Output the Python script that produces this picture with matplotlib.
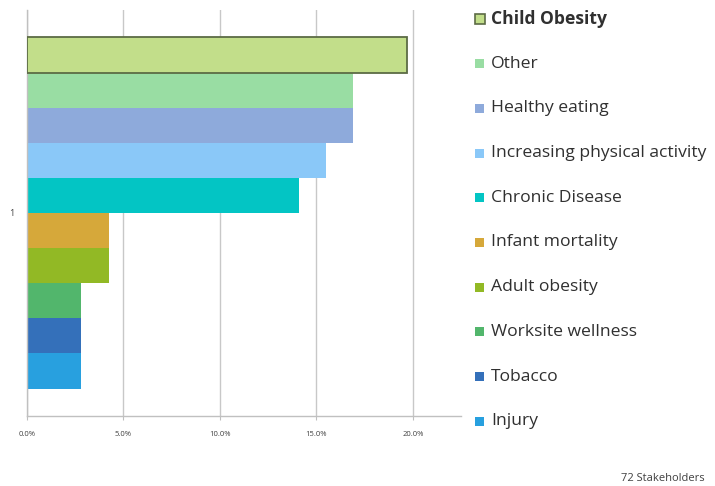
import matplotlib
matplotlib.use("Agg")
import matplotlib.pyplot as plt
from matplotlib.patches import Rectangle
import numpy as np

# share of the stakeholders naming each priority
labels = ["Child Obesity", "Other", "Healthy eating", "Increasing physical activity",
          "Chronic Disease", "Infant mortality", "Adult obesity", "Worksite wellness",
          "Tobacco", "Injury"]
shares = [0.1972, 0.1690, 0.1690, 0.1549, 0.1408, 0.0423, 0.0423, 0.0282, 0.0282, 0.0282]
colors = ["#C2DE8A", "#99DDA3", "#8EAADB", "#8AC8F8", "#03C5C4",
          "#D6A83A", "#92B925", "#52B66C", "#3470BA", "#28A0DF"]
xticks = [0.0, 0.05, 0.10, 0.15, 0.20]
xticklabels = ["0.0%", "5.0%", "10.0%", "15.0%", "20.0%"]
category = "1"
note = "72 Stakeholders"

plt.rcParams['font.family'] = ['Open Sans', 'DejaVu Sans']

fig = plt.figure(figsize=(7.15, 4.86), dpi=100)
ax = fig.add_axes([27 / 715, 70 / 486, 434 / 715, 406 / 486])

n = len(labels)
h = 1.0 / n
ys = -0.5 + h / 2 + h * np.arange(n)
for i, (v, c) in enumerate(zip(shares, colors)):
    if i == 0:
        ax.barh(ys[i], v, height=h, color=c, edgecolor="#5C6B45", linewidth=1.3, zorder=3)
    else:
        ax.barh(ys[i], v, height=h, color=c, linewidth=0, zorder=2)

ax.set_ylim(0.578, -0.578)
ax.set_xlim(0, 0.225)
ax.set_xticks(xticks)
ax.set_xticklabels(xticklabels, fontsize=5.5, color="#404040")
ax.set_yticks([0.0])
ax.set_yticklabels([category], fontsize=6.5, color="#404040")
ax.tick_params(axis="y", length=0, pad=9)
ax.tick_params(axis="x", length=3, color="#BFBFBF", pad=8)
ax.grid(axis="x", color="#C8C8C8", linewidth=1, zorder=0)
for s in ["top", "right"]:
    ax.spines[s].set_visible(False)
for s in ["left", "bottom"]:
    ax.spines[s].set_color("#C0C0C0")
    ax.spines[s].set_linewidth(1)
ax.set_axisbelow(True)

# legend drawn by hand to match the spacing
W, H = 715, 486
for i, (lab, c) in enumerate(zip(labels, colors)):
    yc = 19 + i * 44.7
    if i == 0:
        fig.patches.append(Rectangle((475 / W, 1 - (yc + 5) / H), 10 / W, 10 / H,
                                     transform=fig.transFigure, facecolor=c,
                                     edgecolor="#5C6B45", linewidth=1.2))
    else:
        fig.patches.append(Rectangle((475 / W, 1 - (yc + 4.5) / H), 9 / W, 9 / H,
                                     transform=fig.transFigure, facecolor=c, linewidth=0))
    fig.text(491 / W, 1 - yc / H, lab, fontsize=12.6, va="center", ha="left",
             color="#303030", fontweight="bold" if i == 0 else "normal")

fig.text(705 / W, 1 - 478 / H, note, fontsize=8, ha="right", va="center", color="#404040")

fig.savefig("out.png", dpi=100)
